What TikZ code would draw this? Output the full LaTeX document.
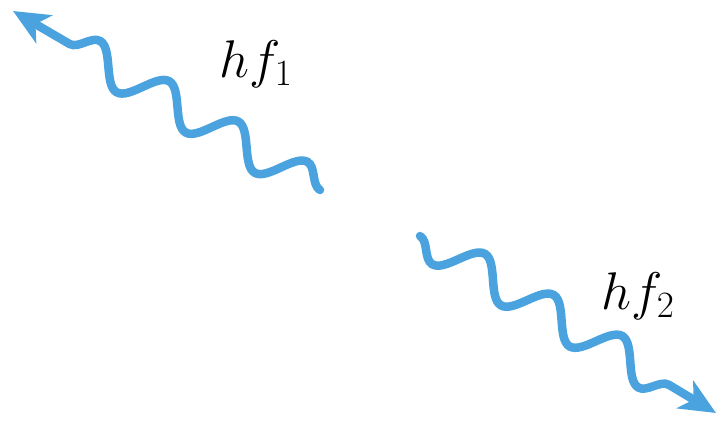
\documentclass[tikz,border=0pt]{standalone}
\usepackage{fix-cm}
\usetikzlibrary{decorations.pathmorphing,arrows.meta}
\definecolor{photonblue}{RGB}{74,163,222}
\begin{document}
\begin{tikzpicture}[x=1pt,y=-1pt,
  photon/.style={draw=photonblue, line width=8.5pt, line cap=round,
    -{Stealth[length=36pt,width=32pt,inset=10pt,fill=photonblue]},
    decorate, decoration={snake, mirror, segment length=80pt, amplitude=18pt, post length=30pt}},
  lbl/.style={font=\fontsize{53}{64}\selectfont, inner sep=0pt}]
\useasboundingbox (0,0) rectangle (717,421);
\coordinate (a1) at (320,190);
\coordinate (b1) at (13,11);
\coordinate (a2) at (420,236);
\coordinate (b2) at (716,413);
\draw[photon] (a1) -- (b1);
\draw[photon] (a2) -- (b2);
\node[lbl] (l1) at (256,64) {$hf_1$};
\node[lbl] (l2) at (638,296) {$hf_2$};
\end{tikzpicture}
\end{document}
